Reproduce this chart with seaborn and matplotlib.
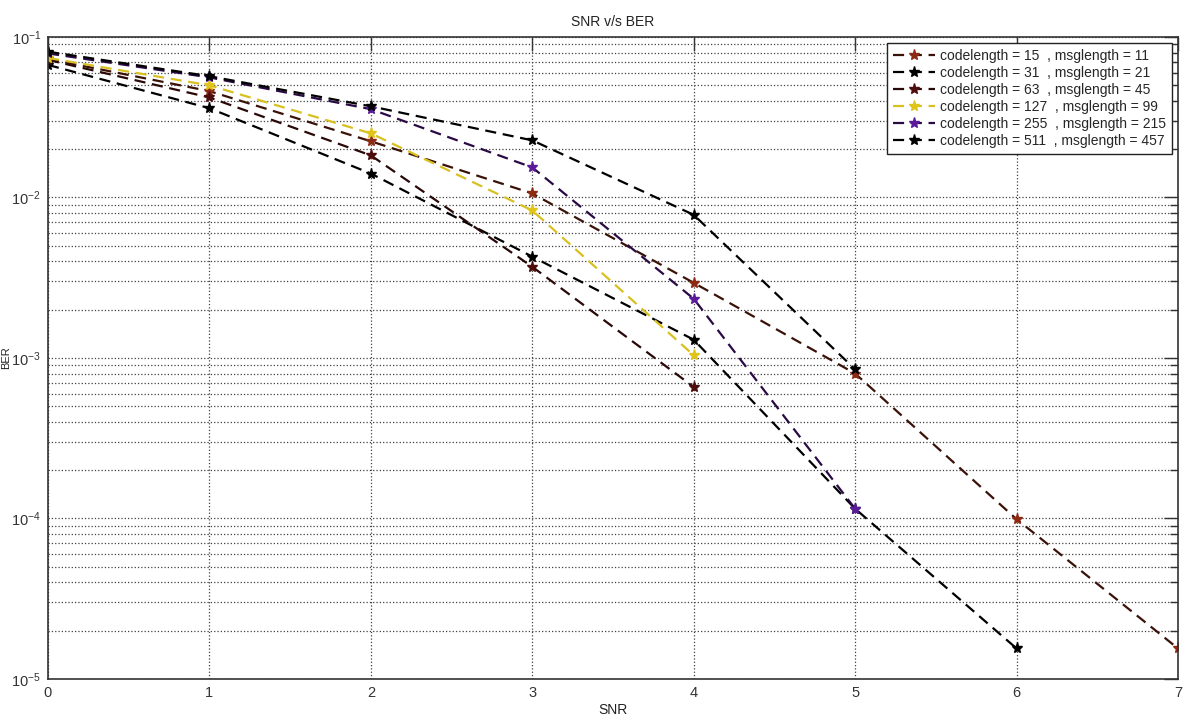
import numpy as np
import pandas as pd
import seaborn as sns
import matplotlib.pyplot as plt
from matplotlib.ticker import LogLocator, NullFormatter

# valores (BER por SNR)
snr = [0, 1, 2, 3, 4, 5, 6, 7]
ber_15_11 = [0.073, 0.046, 0.0224, 0.0106, 0.00294, 0.00080, 9.9e-5, 1.55e-5]
ber_31_21 = [0.067, 0.036, 0.0141, 0.00428, 0.0013, 1.15e-4, 1.55e-5]
ber_63_45 = [0.072, 0.042, 0.0183, 0.0037, 0.00066]
ber_127_99 = [0.074, 0.050, 0.0251, 0.0083, 0.00104]
ber_255_215 = [0.079, 0.056, 0.0355, 0.0154, 0.00234, 1.15e-4]
ber_511_457 = [0.081, 0.057, 0.037, 0.0227, 0.0078, 0.00085]

labels = ['codelength = 15  , msglength = 11',
          'codelength = 31  , msglength = 21',
          'codelength = 63  , msglength = 45',
          'codelength = 127  , msglength = 99',
          'codelength = 255  , msglength = 215',
          'codelength = 511  , msglength = 457']
series = [ber_15_11, ber_31_21, ber_63_45, ber_127_99, ber_255_215, ber_511_457]
line_colors = ['#3a1208', '#000000', '#2a0808', '#d8c020', '#2a0a45', '#000000']
marker_colors = ['#8c2a14', '#000000', '#4d0d0d', '#e0c418', '#5a1a9a', '#000000']

# armo dataframe largo
rows = []
for lab, vals in zip(labels, series):
    for x, v in zip(snr, vals):
        rows.append({'SNR': x, 'BER': v, 'code': lab})
df = pd.DataFrame(rows)

sns.set_theme(style='white')
plt.rcParams['font.family'] = ['Liberation Sans', 'DejaVu Sans']

fig = plt.figure(figsize=(11.97, 7.2), dpi=100)
ax = fig.add_axes([0.0401, 0.057, 0.944, 0.8916])

for lab, lc, mc in zip(labels, line_colors, marker_colors):
    sub = df[df['code'] == lab]
    sns.lineplot(data=sub, x='SNR', y='BER', ax=ax, color=lc, linestyle='--',
                 linewidth=1.6, marker='*', markersize=8, markeredgecolor=mc,
                 markerfacecolor=mc, markeredgewidth=1.0, label=lab,
                 dashes=False)
    ax.lines[-1].set_dashes([5, 3])

ax.set_yscale('log')
ax.set_xlim(0, 7)
ax.set_ylim(1e-5, 1e-1)
ax.yaxis.set_major_locator(LogLocator(base=10, numticks=10))
ax.yaxis.set_minor_locator(LogLocator(base=10, subs=np.arange(2, 10), numticks=20))
ax.yaxis.set_minor_formatter(NullFormatter())
ax.set_xticks(snr)

ax.grid(True, which='major', linestyle=':', color='0.25', linewidth=0.9)
ax.grid(True, which='minor', axis='y', linestyle=':', color='0.25', linewidth=0.9)

ax.tick_params(which='both', direction='in', top=True, right=True,
               labelsize=10.5, colors='#333333', pad=5)
ax.tick_params(which='major', length=10, width=1)
ax.tick_params(which='minor', length=6, width=1)
for s in ax.spines.values():
    s.set_color('#333333')
    s.set_linewidth(1.2)

ax.set_title('SNR v/s BER', fontsize=10, color='#222222', pad=8)
ax.set_xlabel('SNR', fontsize=10, color='#222222', labelpad=2)
ax.set_ylabel('BER', fontsize=8, color='#222222', va='center')
ax.yaxis.set_label_coords(-0.037, 0.5)

leg = ax.legend(loc='upper right', fontsize=10, frameon=True, fancybox=False,
                edgecolor='#222222', facecolor='white', framealpha=1,
                handlelength=3, handletextpad=0.4, borderaxespad=0.45,
                labelspacing=0.22, borderpad=0.4)
leg.get_frame().set_linewidth(1.0)

fig.savefig('out.png', dpi=100, facecolor='white')
